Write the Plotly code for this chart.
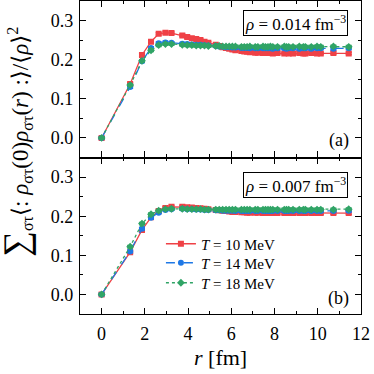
import plotly.graph_objects as go
from plotly.subplots import make_subplots

# r values (fm)
r = [0.0, 1.32, 1.867, 2.286, 2.64, 2.952, 3.233, 3.734, 3.96, 4.174, 4.378, 4.573, 4.759, 4.939,
     5.28, 5.442, 5.60, 5.754, 5.903, 6.049, 6.191, 6.467, 6.60, 6.731, 6.859, 7.108, 7.23, 7.467,
     7.583, 7.697, 7.809, 7.92, 8.137, 8.452, 8.555, 8.656, 8.855, 9.145, 9.334, 9.427, 9.70,
     9.966, 10.139, 10.724, 11.432]

# panel (a): rho = 0.014 fm^-3
a_T10 = [0, 0.138, 0.212, 0.246, 0.266, 0.269, 0.268, 0.262, 0.258, 0.255, 0.253, 0.250, 0.246, 0.243,
         0.238, 0.235, 0.232, 0.230, 0.228, 0.226, 0.224, 0.222, 0.221, 0.220, 0.219, 0.218, 0.218, 0.217,
         0.217, 0.218, 0.217, 0.216, 0.217, 0.216, 0.217, 0.216, 0.216, 0.217, 0.216, 0.216, 0.217,
         0.216, 0.216, 0.217, 0.216]
a_T14 = [0, 0.130, 0.196, 0.230, 0.242, 0.244, 0.243, 0.241, 0.240, 0.239, 0.238, 0.238, 0.237, 0.236,
         0.235, 0.234, 0.233, 0.232, 0.232, 0.231, 0.231, 0.230, 0.230, 0.230, 0.229, 0.229, 0.229, 0.229,
         0.229, 0.229, 0.229, 0.228, 0.229, 0.229, 0.228, 0.229, 0.229, 0.228, 0.229, 0.229, 0.228,
         0.229, 0.229, 0.228, 0.229]
a_T18 = [0, 0.135, 0.197, 0.224, 0.237, 0.240, 0.240, 0.238, 0.237, 0.237, 0.236, 0.236, 0.236, 0.235,
         0.235, 0.235, 0.234, 0.234, 0.234, 0.234, 0.234, 0.233, 0.233, 0.233, 0.234, 0.233, 0.233, 0.234,
         0.233, 0.233, 0.234, 0.233, 0.233, 0.234, 0.233, 0.233, 0.233, 0.234, 0.233, 0.233, 0.233,
         0.234, 0.233, 0.234, 0.233]

# panel (b): rho = 0.007 fm^-3
b_T10 = [0, 0.108, 0.165, 0.197, 0.213, 0.221, 0.224, 0.224, 0.223, 0.222, 0.221, 0.220, 0.219, 0.218,
         0.216, 0.215, 0.214, 0.213, 0.212, 0.211, 0.211, 0.210, 0.210, 0.209, 0.209, 0.209, 0.209, 0.208,
         0.208, 0.208, 0.208, 0.208, 0.208, 0.208, 0.208, 0.208, 0.208, 0.208, 0.208, 0.208, 0.208,
         0.208, 0.208, 0.208, 0.208]
b_T14 = [0, 0.110, 0.168, 0.196, 0.209, 0.216, 0.218, 0.219, 0.218, 0.218, 0.217, 0.217, 0.216, 0.216,
         0.215, 0.215, 0.214, 0.214, 0.214, 0.214, 0.213, 0.213, 0.213, 0.213, 0.213, 0.213, 0.213, 0.213,
         0.213, 0.213, 0.213, 0.213, 0.213, 0.213, 0.213, 0.213, 0.213, 0.213, 0.213, 0.213, 0.213,
         0.213, 0.213, 0.213, 0.214]
b_T18 = [0, 0.122, 0.181, 0.205, 0.214, 0.218, 0.219, 0.219, 0.218, 0.218, 0.218, 0.218, 0.217, 0.217,
         0.217, 0.217, 0.217, 0.217, 0.217, 0.217, 0.217, 0.217, 0.217, 0.217, 0.217, 0.217, 0.217, 0.217,
         0.217, 0.217, 0.217, 0.217, 0.217, 0.217, 0.217, 0.217, 0.217, 0.217, 0.217, 0.217, 0.217,
         0.217, 0.217, 0.217, 0.218]

series_names = ["<i>T</i> = 10 MeV", "<i>T</i> = 14 MeV", "<i>T</i> = 18 MeV"]
colors = ["#ef4146", "#1e78e6", "#30a466"]
symbols = ["square", "circle", "diamond"]
dashes = ["solid", "dash", "dot"]
legend_ids = ["legend", "legend2", "legend3"]
legend_y = [0.2236, 0.163, 0.099]
err = 0.003

FONT = "Liberation Serif, Times New Roman, DejaVu Serif, serif"

fig = make_subplots(rows=2, cols=1, shared_xaxes=True, vertical_spacing=0)

for row, data in ((1, [a_T10, a_T14, a_T18]), (2, [b_T10, b_T14, b_T18])):
    for i, ys in enumerate(data):
        fig.add_trace(go.Scatter(
            x=r, y=ys, mode="lines+markers", name=series_names[i],
            line=dict(color=colors[i], width=1.3, dash=dashes[i]),
            marker=dict(symbol=symbols[i], size=6, color=colors[i]),
            error_y=dict(type="constant", value=err, color=colors[i], thickness=1.5, width=3),
            showlegend=(row == 2), legend=legend_ids[i],
        ), row=row, col=1)

axis_common = dict(showline=True, linewidth=1.4, linecolor="black", mirror="ticks",
                   ticks="inside", tickcolor="black", tickwidth=1.3, showgrid=False,
                   zeroline=False, automargin=False,
                   tickfont=dict(family=FONT, size=18, color="black"))

for ax in ("xaxis", "xaxis2"):
    fig.update_layout({ax: dict(range=[-1, 12], dtick=2, tick0=0, ticklen=6,
                                minor=dict(dtick=1, ticklen=3, ticks="inside", tickcolor="black"),
                                **axis_common)})
fig.update_layout(xaxis=dict(showticklabels=False))
fig.update_layout(xaxis2=dict(ticklabelstandoff=3))
for ax in ("yaxis", "yaxis2"):
    fig.update_layout({ax: dict(range=[-0.05, 0.35], dtick=0.1, tick0=0, tickformat=".1f", ticklen=6,
                                minor=dict(dtick=0.05, ticklen=3, ticks="inside", tickcolor="black"),
                                ticklabelstandoff=2, **axis_common)})

ytitle = ("<span style='font-size:36px'>∑</span><sub>στ</sub>⟨: <i>ρ</i><sub>στ</sub>(0)<i>ρ</i><sub>στ</sub>(<i>r</i>) :⟩"
          "/⟨<i>ρ</i>⟩<sup>2</sup>")

annos = [
    dict(text=ytitle, x=-0.228, y=0.55, xref="paper", yref="paper", textangle=-90,
         showarrow=False, xanchor="center", yanchor="middle",
         font=dict(family=FONT, size=23, color="black")),
    dict(text="<i>r</i> [fm]", x=0.5, y=-0.14, xref="paper", yref="paper",
         xanchor="center", yanchor="middle", showarrow=False,
         font=dict(family=FONT, size=22, color="black")),
    dict(text="<i>ρ</i> = 0.014 fm<sup>−3</sup>", x=0.955, y=0.972, xref="paper", yref="paper",
         xanchor="right", yanchor="top", showarrow=False, bordercolor="black", borderwidth=1,
         borderpad=1, bgcolor="white", font=dict(family=FONT, size=17, color="black")),
    dict(text="<i>ρ</i> = 0.007 fm<sup>−3</sup>", x=0.955, y=0.454, xref="paper", yref="paper",
         xanchor="right", yanchor="top", showarrow=False, bordercolor="black", borderwidth=1,
         borderpad=1, bgcolor="white", font=dict(family=FONT, size=17, color="black")),
    dict(text="(a)", x=0.965, y=0.555, xref="paper", yref="paper", xanchor="right", yanchor="middle",
         showarrow=False, font=dict(family=FONT, size=18, color="black")),
    dict(text="(b)", x=0.965, y=0.05, xref="paper", yref="paper", xanchor="right", yanchor="middle",
         showarrow=False, font=dict(family=FONT, size=18, color="black")),
]

legend_style = dict(x=0.288, xanchor="left", yanchor="middle", bgcolor="rgba(0,0,0,0)",
                    font=dict(family=FONT, size=15, color="black"), itemwidth=30)

fig.update_layout(
    width=374, height=374,
    margin=dict(l=80, r=13, t=1, b=60),
    paper_bgcolor="white", plot_bgcolor="white",
    annotations=annos,
    showlegend=True,
    legend=dict(y=legend_y[0], **legend_style),
    legend2=dict(y=legend_y[1], **legend_style),
    legend3=dict(y=legend_y[2], **legend_style),
)

fig.write_html("out.html", config={"displayModeBar": False},
               post_script="document.body.style.margin='0px';")
